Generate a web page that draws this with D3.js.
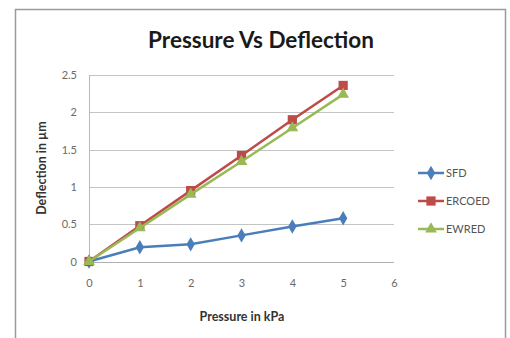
<!DOCTYPE html>
<html>
<head>
<meta charset="utf-8">
<script src="https://cdn.jsdelivr.net/npm/d3@7"></script>
<style>
  html, body { margin: 0; padding: 0; background: #fff; }
  svg { display: block; }
  text { font-family: Lato, "Open Sans", sans-serif; }
</style>
</head>
<body>
<svg id="chart" width="510" height="338"></svg>
<script>
// Pressure (kPa) on the x axis
const pressure = [0, 1, 2, 3, 4, 5];
// Deflection (µm) for each method
const sfd    = [0, 0.19, 0.23, 0.35, 0.47, 0.58];
const ercoed = [0, 0.48, 0.95, 1.42, 1.90, 2.36];
const ewred  = [0, 0.45, 0.90, 1.34, 1.79, 2.24];
const seriesNames = ["SFD", "ERCOED", "EWRED"];
const xTicks = [0, 1, 2, 3, 4, 5, 6];
const yTicks = [0, 0.5, 1, 1.5, 2, 2.5];

const series = [
  { name: seriesNames[0], values: sfd,    color: "#4a7ebb", symbol: d3.symbolDiamond,  size: 60 },
  { name: seriesNames[1], values: ercoed, color: "#be4b48", symbol: d3.symbolSquare,   size: 85 },
  { name: seriesNames[2], values: ewred,  color: "#98b954", symbol: d3.symbolTriangle, size: 60 }
];

const svg = d3.select("#chart");

// chart frame
svg.append("rect")
  .attr("x", 15.5).attr("y", 9.5)
  .attr("width", 490).attr("height", 340)
  .attr("fill", "#fff").attr("stroke", "#9a9a9a").attr("stroke-width", 1.5);

const x = d3.scaleLinear().domain([0, 6]).range([89, 394]);
const y = d3.scaleLinear().domain([0, 2.5]).range([261.5, 75]);

// horizontal gridlines
svg.append("g")
  .selectAll("line")
  .data(yTicks)
  .join("line")
  .attr("x1", x(0)).attr("x2", x(6))
  .attr("y1", d => Math.round(y(d)) + 0.5).attr("y2", d => Math.round(y(d)) + 0.5)
  .attr("stroke", d => d === 0 ? "#b0b0b0" : "#c4c4c4").attr("stroke-width", 1);

// vertical axis line
svg.append("line")
  .attr("x1", x(0) + 0.5).attr("x2", x(0) + 0.5)
  .attr("y1", y(2.5)).attr("y2", y(0))
  .attr("stroke", "#b8b8b8");

// y axis labels
const yAxis = d3.axisLeft(y).tickValues(yTicks).tickSize(0).tickPadding(12)
  .tickFormat(d => String(d));
svg.append("g")
  .attr("transform", `translate(${x(0)},0)`)
  .call(yAxis)
  .call(g => g.select(".domain").remove())
  .call(g => g.selectAll("text").attr("fill", "#6a6a6a")
    .style("font-size", "11px").style("font-family", "Lato, sans-serif"));

// x axis labels
const xAxis = d3.axisBottom(x).tickValues(xTicks).tickSize(0).tickPadding(18)
  .tickFormat(d => String(d));
svg.append("g")
  .attr("transform", `translate(0,${y(0)})`)
  .call(xAxis)
  .call(g => g.select(".domain").remove())
  .call(g => g.selectAll("text").attr("fill", "#6a6a6a")
    .style("font-size", "11px").style("font-family", "Lato, sans-serif"));

// lines and markers
const line = d3.line().x((d, i) => x(pressure[i])).y(d => y(d));
series.forEach(s => {
  svg.append("path")
    .datum(s.values)
    .attr("d", line)
    .attr("fill", "none")
    .attr("stroke", s.color)
    .attr("stroke-width", 2.5);
  svg.append("g")
    .selectAll("path")
    .data(s.values)
    .join("path")
    .attr("transform", (d, i) => `translate(${x(pressure[i])},${y(d)})`)
    .attr("d", d3.symbol(s.symbol, s.size))
    .attr("fill", s.color);
});

// title
svg.append("text")
  .attr("x", 261).attr("y", 48)
  .attr("text-anchor", "middle")
  .attr("font-weight", "bold")
  .attr("font-size", 22.5)
  .attr("fill", "#1a1a1a")
  .text("Pressure Vs Deflection");

// axis titles
svg.append("text")
  .attr("x", 242).attr("y", 321)
  .attr("text-anchor", "middle")
  .attr("font-weight", "bold")
  .attr("font-size", 12.5)
  .attr("fill", "#333")
  .text("Pressure in kPa");

svg.append("text")
  .attr("transform", "translate(46,168) rotate(-90)")
  .attr("text-anchor", "middle")
  .attr("font-weight", "bold")
  .attr("font-size", 12.5)
  .attr("fill", "#333")
  .text("Deflection in µm");

// legend
const legend = svg.append("g");
series.forEach((s, i) => {
  const ly = 173 + i * 28;
  legend.append("line")
    .attr("x1", 418).attr("x2", 444)
    .attr("y1", ly).attr("y2", ly)
    .attr("stroke", s.color).attr("stroke-width", 2.5);
  legend.append("path")
    .attr("transform", `translate(431,${ly})`)
    .attr("d", d3.symbol(s.symbol, s.size))
    .attr("fill", s.color);
  legend.append("text")
    .attr("x", 446).attr("y", ly + 4)
    .attr("font-size", 11)
    .attr("fill", "#555")
    .text(s.name);
});
</script>
</body>
</html>
